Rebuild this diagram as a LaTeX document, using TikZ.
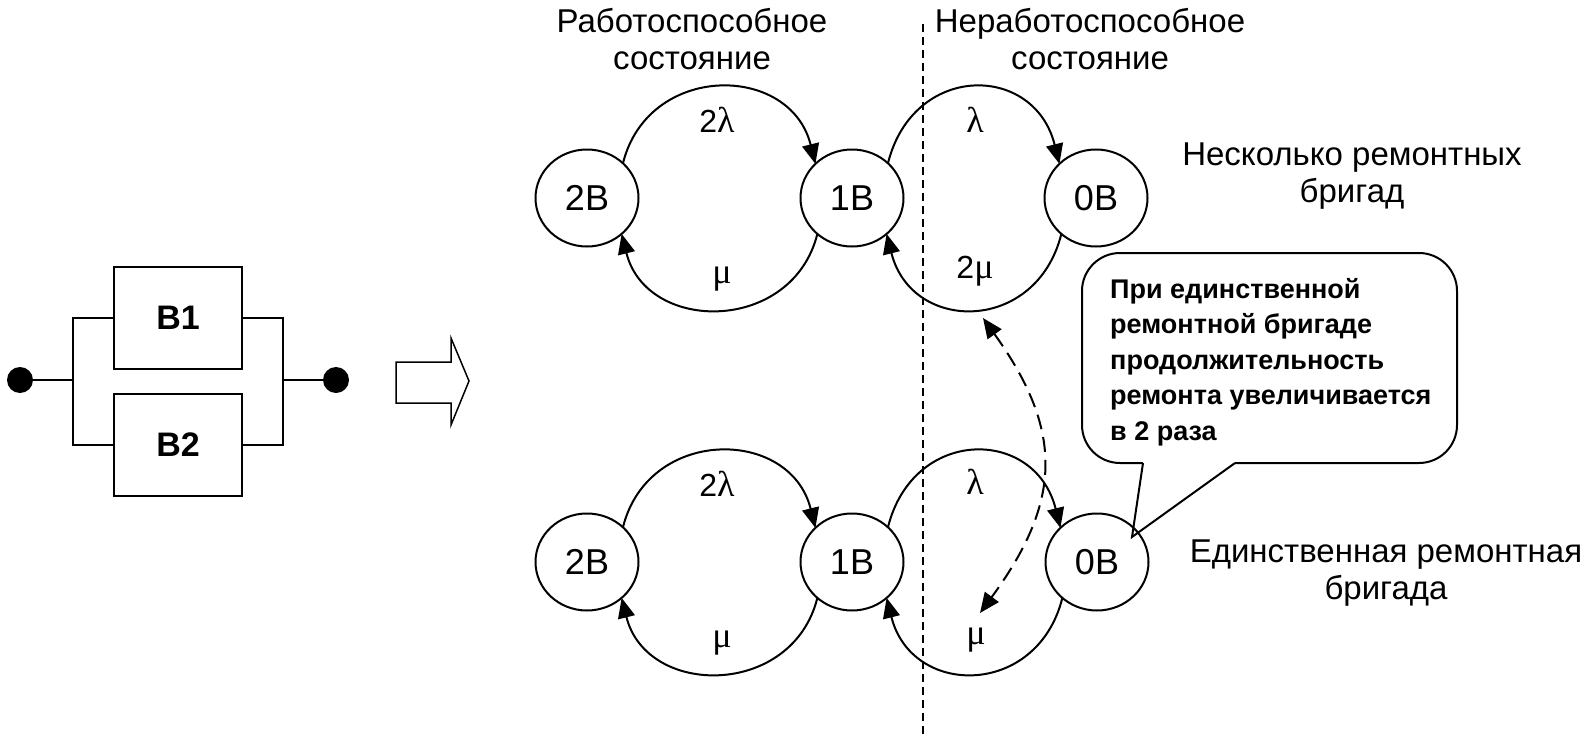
\documentclass[tikz,border=0pt]{standalone}
\usepackage{fontspec}
\setmainfont{Liberation Sans}
\newfontfamily\grk{Liberation Serif}
\usetikzlibrary{arrows.meta,shapes.geometric}
\begin{document}
\begin{tikzpicture}[x=1pt,y=1pt,
  state/.style={draw, ellipse, minimum width=103pt, minimum height=97pt, inner sep=0pt, outer sep=0pt, line width=2pt, font=\fontsize{36}{40}\selectfont},
  trans/.style={line width=2pt, -{Triangle[length=20pt,width=17pt]}},
  lbl/.style={font=\fontsize{32}{36}\selectfont, inner sep=0pt},
  head/.style={align=center, font=\fontsize{33}{37}\selectfont, inner sep=0pt},
  blk/.style={draw, line width=2pt, minimum width=128pt, minimum height=102pt, inner sep=0pt, outer sep=0pt, font=\bfseries\fontsize{34}{38}\selectfont},
  wire/.style={line width=2pt},
  dot/.style={circle, fill=black, minimum size=26pt, inner sep=0pt, outer sep=0pt},
  vdash/.style={line width=2pt, dash pattern=on 8pt off 5pt},
  ddash/.style={line width=2pt, dash pattern=on 15pt off 8pt, {Triangle[length=20pt,width=17pt]}-{Triangle[length=20pt,width=17pt]}}
]
\useasboundingbox (0,0) rectangle (1591,-744);

% ---- parallel scheme ----
\node[blk] (b1) at (178,-317.5) {В1};
\node[blk] (b2) at (178,-444.5) {В2};
\node[dot] (dl) at (20,-380) {};
\node[dot] (dr) at (336,-380) {};
\coordinate (jl) at (73,-380);
\coordinate (jr) at (283,-380);
\draw[wire] (dl) -- (jl);
\draw[wire] (b1.west) -| (jl) |- (b2.west);
\draw[wire] (b1.east) -| (jr) |- (b2.east);
\draw[wire] (jr) -- (dr);

% ---- block arrow ----
\draw[line width=1.5pt, line join=miter] (396,-362) -- (451,-362) -- (451,-338) -- (469,-381) -- (451,-425) -- (451,-403) -- (396,-403) -- cycle;

% ---- headings ----
\node[head, anchor=north] (h1) at (692,-8) {Работоспособное\\состояние};
\node[head, anchor=north] (h2) at (1090,-8) {Неработоспособное\\состояние};
\node[head, anchor=north] (r1) at (1352,-143) {Несколько ремонтных\\бригад};
\node[head, anchor=north] (r2) at (1386,-540) {Единственная ремонтная\\бригада};

% ---- vertical divider ----
\coordinate (vt) at (923,-24);
\coordinate (vb) at (923,-736);
\draw[vdash] (vt) -- (vb);

% ---- callout ----
\node[draw, line width=2pt, rounded corners=38pt, minimum width=375pt, minimum height=210pt, fill=white] (note) at (1269.5,-358) {};
\coordinate (p1) at (1143,-463);
\coordinate (p2) at (1235,-463);
\coordinate (tip) at (1132,-537);
\fill[white] (p1) -- (tip) -- (p2) -- cycle;
\draw[white, line width=3.5pt] (p1) -- (p2);
\draw[wire, line join=miter] (p1) -- (tip) -- (p2);
\node[anchor=north west, align=left, inner sep=0pt, font=\bfseries\fontsize{27}{35.5}\selectfont] (notetext) at (1110,-278)
  {При единственной\\ремонтной бригаде\\продолжительность\\ремонта увеличивается\\в 2 раза};

% ---- states ----
\node[state] (a2) at (587,-198) {2В};
\node[state] (a1) at (852,-198) {1В};
\node[state] (a0) at (1096,-198) {0В};
\node[state] (c2) at (587,-562) {2В};
\node[state] (c1) at (852,-562) {1В};
\node[state] (c0) at (1097,-562) {0В};

% ---- transitions ----
\draw[trans] (a2.44) .. controls +(76:104) and +(104:104) .. (a1.137);
\draw[trans] (a1.226) .. controls +(-104:103) and +(-76:103) .. (a2.314);
\draw[trans] (a1.44) .. controls +(76:104) and +(104:104) .. (a0.137);
\draw[trans] (a0.226) .. controls +(-104:103) and +(-76:103) .. (a1.314);
\draw[trans] (c2.44) .. controls +(76:104) and +(104:104) .. (c1.137);
\draw[trans] (c1.226) .. controls +(-104:103) and +(-76:103) .. (c2.314);
\draw[trans] (c1.44) .. controls +(76:104) and +(104:104) .. (c0.137);
\draw[trans] (c0.226) .. controls +(-104:103) and +(-76:103) .. (c1.314);

% ---- rate labels ----
\node[lbl] (l1) at (717,-120) {2{\grk\fontsize{36}{36}\selectfont λ}};
\node[lbl] (l2) at (722,-279) {{\grk\fontsize{36}{36}\selectfont μ}};
\node[lbl] (l3) at (975,-120) {{\grk\fontsize{36}{36}\selectfont λ}};
\node[lbl] (l4) at (975,-271) {2{\grk\fontsize{36}{36}\selectfont μ}};
\node[lbl] (l5) at (717,-484) {2{\grk\fontsize{36}{36}\selectfont λ}};
\node[lbl] (l6) at (722,-643) {{\grk\fontsize{36}{36}\selectfont μ}};
\node[lbl] (l7) at (975,-482) {{\grk\fontsize{36}{36}\selectfont λ}};
\node[lbl] (l8) at (976,-640) {{\grk\fontsize{36}{36}\selectfont μ}};

% ---- dashed double arrow ----
\coordinate (dt) at (983,-318);
\coordinate (db) at (980,-613);
\draw[ddash] (dt) .. controls (1063,-430) and (1063,-500) .. (db);
\end{tikzpicture}
\end{document}
